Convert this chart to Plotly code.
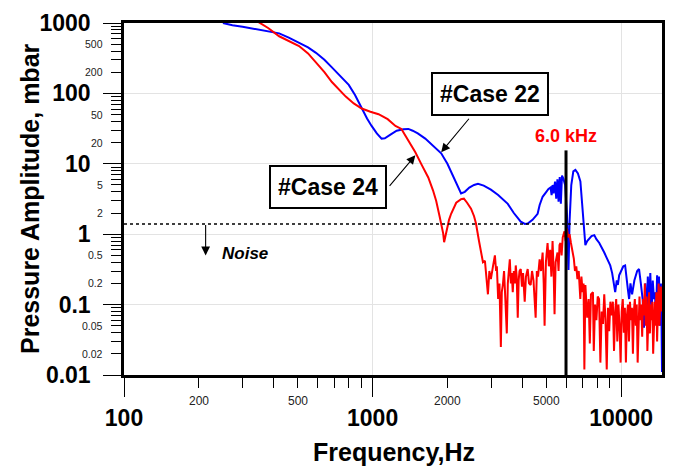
import math
import plotly.graph_objects as go

# ---------------- data ----------------
blue_f = [250, 273, 300, 328, 370, 421, 460, 506, 550, 592, 640, 686, 740, 802, 850, 904, 950, 991,
          1040, 1087, 1120, 1180, 1250, 1330, 1393, 1450, 1520, 1629, 1750, 1888, 2000, 2070, 2170,
          2270, 2350, 2450, 2560, 2655, 2800, 2992, 3200, 3350, 3499, 3700, 3945, 4100, 4207, 4400,
          4613, 4700, 4831, 5000, 5100, 5200, 5250, 5300, 5350, 5420, 5480, 5540, 5600, 5660, 5720,
          5780, 5850, 5950, 6050, 6140, 6200, 6300, 6420, 6546, 6700, 6855, 6982, 7112, 7178, 7300,
          7450, 7600, 7798, 7950, 8166, 8300, 8400, 8551, 8700, 8850, 9036, 9200, 9300, 9462, 9600,
          9700, 9817, 10000, 10200, 10375, 10500, 10650, 10765, 10900, 11066, 11300, 11600, 11803,
          12000, 12200, 12359, 12500, 12650, 12800, 12950, 13100, 13250, 13400, 13550, 13677, 13800,
          13950, 14100, 14200, 14322, 14450, 14520, 14600]
blue_v = [1000, 930, 885, 836, 780, 713, 620, 518, 450, 377, 300, 234, 180, 132, 95, 61, 44, 34.5,
          27, 22.8, 23, 26, 29.5, 31, 31.3, 29.5, 27, 22.8, 18, 14.1, 10, 7.7, 5.3,
          3.8, 4.0, 4.6, 5.0, 5.2, 4.9, 4.3, 3.6, 3.1, 2.7, 2.0, 1.51, 1.40, 1.42, 1.6,
          1.95, 2.6, 3.4, 4.0, 4.4, 4.6, 3.6, 5.0, 3.8, 5.6, 3.2, 6.0, 2.9, 6.5, 2.7,
          6.8, 6.2, 5.0, 2.0, 0.31, 1.5, 5.0, 7.8, 8.2, 7.3, 5.6, 2.6, 1.2, 0.70, 0.80,
          0.88, 0.94, 0.97, 0.85, 0.75, 0.68, 0.62, 0.55, 0.48, 0.42, 0.36, 0.28, 0.22, 0.15, 0.22,
          0.19, 0.26, 0.30, 0.35, 0.36, 0.22, 0.16, 0.12, 0.2, 0.14, 0.22, 0.30, 0.32,
          0.2, 0.12, 0.047, 0.2, 0.06, 0.25, 0.1, 0.28, 0.07, 0.22, 0.12, 0.15, 0.06,
          0.26, 0.09, 0.25, 0.05, 0.2, 0.08, 0.011]

red_f = [340, 380, 421, 460, 506, 550, 592, 640, 686, 730, 780, 840, 904, 980, 1057, 1150, 1236,
         1306, 1400, 1486, 1580, 1675, 1750, 1803, 1860, 1923, 1940, 1980, 2030, 2070, 2170, 2270,
         2330, 2400, 2489, 2560, 2606, 2680, 2730, 2780, 2831, 2870, 2911, 2950, 2992, 3050, 3105,
         3140, 3162, 3200, 3240, 3281, 3310, 3342, 3380, 3420, 3467, 3500, 3530, 3565, 3600, 3630,
         3664, 3700, 3740, 3767, 3800, 3837, 3870, 3900, 3945, 3990, 4030, 4093, 4140, 4207, 4260,
         4325, 4380, 4440, 4529, 4580, 4630, 4699, 4760, 4831, 4880, 4920, 4980, 5058, 5120, 5180,
         5240, 5297, 5350, 5395, 5450, 5546, 5600, 5650, 5702, 5760, 5820, 5880, 5916, 5980, 6050,
         6120, 6200, 6280, 6368, 6450, 6520, 6600, 6668, 6750, 6850, 6920, 7000, 7060, 7112, 7180,
         7300, 7400, 7480, 7560, 7700, 7760, 7850, 7950, 8050, 8150, 8250, 8350, 8450, 8550, 8650,
         8750, 8850, 8950, 9050, 9150, 9260, 9360, 9460, 9550, 9650, 9750, 9850, 9950, 10050,
         10150, 10250, 10350, 10450, 10550, 10650, 10750, 10850, 10950, 11050, 11150, 11250,
         11350, 11450, 11550, 11650, 11750, 11850, 11950, 12050, 12150, 12250, 12350, 12450,
         12550, 12650, 12750, 12850, 12950, 13050, 13150, 13250, 13350, 13450, 13550, 13650,
         13750, 13850, 13950, 14050, 14150, 14250, 14350, 14450, 14550, 14600]
red_v = [1080, 850, 648, 560, 471, 370, 274, 200, 145, 115, 90, 72, 61, 55, 50.6, 43, 34.5,
         31.3, 21, 14.6, 9.5, 6.4, 4.2, 2.96, 1.8, 1.03, 0.77, 1.1, 1.6, 1.95, 2.8, 3.15,
         3.2, 2.8, 2.3, 1.8, 1.42, 0.8, 0.55, 0.40, 0.42, 0.25, 0.14, 0.30, 0.23, 0.35, 0.50,
         0.30, 0.35, 0.12, 0.2, 0.025, 0.15, 0.19, 0.30, 0.12, 0.039, 0.2, 0.3, 0.44, 0.2, 0.28,
         0.15, 0.3, 0.2, 0.36, 0.25, 0.065, 0.22, 0.3, 0.32, 0.18, 0.28, 0.11, 0.25, 0.32, 0.2,
         0.19, 0.3, 0.22, 0.065, 0.3, 0.25, 0.44, 0.3, 0.55, 0.2, 0.05, 0.4, 0.75, 0.35, 0.6,
         0.25, 0.8, 0.3, 0.073, 0.4, 0.55, 0.3, 0.7, 0.75, 0.5, 0.9, 1.0, 1.1, 0.8, 1.2,
         0.9, 1.0, 0.75, 0.6, 0.45, 0.3, 0.35, 0.23, 0.3, 0.12, 0.25, 0.15, 0.2, 0.012, 0.19,
         0.065, 0.12, 0.028, 0.14, 0.15, 0.022, 0.1, 0.06, 0.13, 0.12, 0.015, 0.08, 0.053, 0.14, 0.06,
         0.012, 0.09, 0.042, 0.11, 0.07, 0.11, 0.022, 0.08, 0.12, 0.03, 0.1, 0.05, 0.015, 0.08,
         0.12, 0.04, 0.09, 0.015, 0.07, 0.1, 0.03, 0.11, 0.06, 0.09, 0.02, 0.08,
         0.12, 0.05, 0.1, 0.015, 0.07, 0.13, 0.06, 0.1, 0.035, 0.12, 0.07, 0.2,
         0.05, 0.13, 0.022, 0.09, 0.15, 0.039, 0.1, 0.06, 0.11, 0.02, 0.08, 0.11,
         0.05, 0.15, 0.03, 0.1, 0.2, 0.05, 0.12, 0.18, 0.08, 0.11]

noise_level = 1.4
marker_freq = 6000
marker_top = 15.5

x_major = [100, 1000, 10000]
x_major_text = ["100", "1000", "10000"]
x_minor_labels = [200, 500, 2000, 5000]
x_minor = [m * d for d in (100, 1000) for m in range(2, 10)]

y_major = [0.01, 0.1, 1, 10, 100, 1000]
y_major_text = ["0.01", "0.1", "1", "10", "100", "1000"]
y_minor_labels = [0.02, 0.05, 0.2, 0.5, 2, 5, 20, 50, 200, 500]
y_minor_text = ["0.02", "0.05", "0.2", "0.5", "2", "5", "20", "50", "200", "500"]
y_minor = [m * d for d in (0.01, 0.1, 1, 10, 100) for m in range(2, 10)]

FONT = "Liberation Sans, Arial, sans-serif"
L = math.log10  # annotation positions on log axes are given in log10 units

fig = go.Figure()
fig.add_trace(go.Scatter(x=blue_f, y=blue_v, mode="lines",
                         line=dict(color="#0000FF", width=2), name="#Case 22"))
fig.add_trace(go.Scatter(x=red_f, y=red_v, mode="lines",
                         line=dict(color="#FF0000", width=2), name="#Case 24"))

# noise line and marker line
fig.add_shape(type="line", xref="paper", x0=0, x1=1, yref="y", y0=noise_level, y1=noise_level,
              line=dict(color="black", width=1.5, dash="dot"))
fig.add_shape(type="line", xref="x", x0=marker_freq, x1=marker_freq, yref="y", y0=0.01, y1=marker_top,
              line=dict(color="black", width=3))

ann = []
# minor tick labels
for v in x_minor_labels:
    ann.append(dict(x=L(v), xref="x", y=0, yref="paper", yshift=-26, text=str(v), showarrow=False,
                    xanchor="center", yanchor="middle", font=dict(family=FONT, size=12, color="#222")))
for v, t in zip(y_minor_labels, y_minor_text):
    ann.append(dict(x=0, xref="paper", xshift=-19, y=L(v), yref="y", text=t, showarrow=False,
                    xanchor="right", yanchor="middle", font=dict(family=FONT, size=10.5, color="#222")))
# axis titles
ann.append(dict(x=0.501, xref="paper", y=0, yref="paper", yshift=-77, text="Frequency,Hz",
                showarrow=False, xanchor="center", yanchor="middle",
                font=dict(family=FONT, size=25, color="black", weight="bold")))
ann.append(dict(x=0, xref="paper", xshift=-94, y=0.5, yref="paper", text="Pressure Amplitude, mbar",
                textangle=-90, showarrow=False, xanchor="center", yanchor="middle",
                font=dict(family=FONT, size=25, color="black", weight="bold")))
# case boxes
ann.append(dict(x=L(2978), y=L(97), xref="x", yref="y", text="#Case 22", showarrow=False,
                bordercolor="black", borderwidth=2, borderpad=7, bgcolor="white",
                font=dict(family=FONT, size=23, color="black", weight="bold")))
ann.append(dict(x=L(661), y=L(4.7), xref="x", yref="y", text="#Case 24", showarrow=False,
                bordercolor="black", borderwidth=2, borderpad=7, bgcolor="white",
                font=dict(family=FONT, size=23, color="black", weight="bold")))
# arrows
ann.append(dict(x=L(1888), y=L(14.6), xref="x", yref="y", text="", showarrow=True, ax=29, ay=-35,
                arrowhead=2, arrowsize=1.6, arrowwidth=1.1, arrowcolor="black"))
ann.append(dict(x=L(1486), y=L(13.2), xref="x", yref="y", text="", showarrow=True, ax=-27, ay=32,
                arrowhead=2, arrowsize=1.6, arrowwidth=1.1, arrowcolor="black"))
ann.append(dict(x=L(213), y=L(0.5), xref="x", yref="y", text="", showarrow=True, ax=0, ay=-32,
                arrowhead=2, arrowsize=1.6, arrowwidth=1.1, arrowcolor="black"))
ann.append(dict(x=L(244), y=L(0.53), xref="x", yref="y", text="<i>Noise</i>", showarrow=False,
                xanchor="left", yanchor="middle",
                font=dict(family=FONT, size=17, color="black", weight="bold")))
ann.append(dict(x=L(marker_freq), y=L(25), xref="x", yref="y", text="6.0 kHz", showarrow=False,
                xanchor="center", yanchor="middle",
                font=dict(family=FONT, size=18, color="#FF0000", weight="bold")))

fig.update_layout(
    width=675, height=472,
    margin=dict(l=124, r=10, t=15, b=97),
    plot_bgcolor="white", paper_bgcolor="white",
    showlegend=False,
    annotations=ann,
    xaxis=dict(type="log", range=[2, 4.1643], tickmode="array", tickvals=x_major, ticktext=x_major_text,
               ticks="outside", ticklen=19, tickwidth=1.3, tickcolor="black",
               tickfont=dict(family=FONT, size=23, color="black", weight="bold"),
               ticklabelstandoff=2,
               showline=True, linecolor="black", linewidth=2.5, mirror=True,
               showgrid=True, gridcolor="#e3e3e3", gridwidth=1, zeroline=False,
               minor=dict(tickmode="array", tickvals=x_minor, ticks="outside", ticklen=10,
                          tickwidth=1.3, tickcolor="black", showgrid=False)),
    yaxis=dict(type="log", range=[-2, 3], tickmode="array", tickvals=y_major, ticktext=y_major_text,
               ticks="outside", ticklen=18, tickwidth=1.3, tickcolor="black",
               tickfont=dict(family=FONT, size=23, color="black", weight="bold"),
               ticklabelstandoff=8,
               showline=True, linecolor="black", linewidth=2.5, mirror=True,
               showgrid=True, gridcolor="#e3e3e3", gridwidth=1, zeroline=False,
               minor=dict(tickmode="array", tickvals=y_minor, ticks="outside", ticklen=10,
                          tickwidth=1.3, tickcolor="black", showgrid=False)),
)

fig.write_html("out.html")
